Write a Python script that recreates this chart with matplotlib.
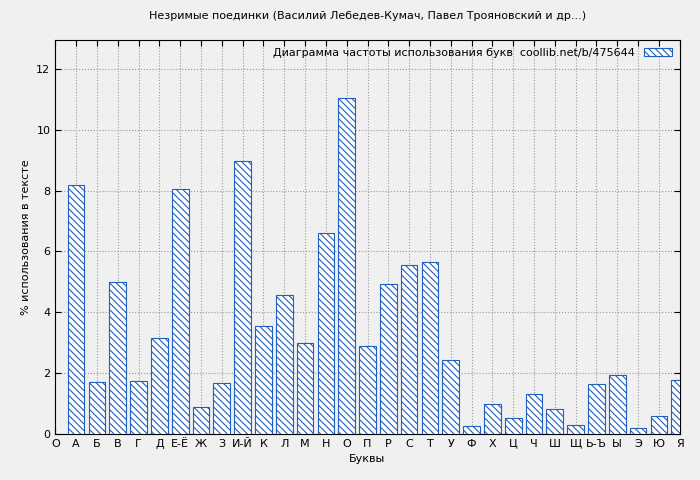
import matplotlib
matplotlib.use("Agg")
import matplotlib.pyplot as plt

letters = ["А", "Б", "В", "Г", "Д", "Е-Ё", "Ж", "З", "И-Й", "К", "Л", "М", "Н", "О", "П",
           "Р", "С", "Т", "У", "Ф", "Х", "Ц", "Ч", "Ш", "Щ", "Ь-Ъ", "Ы", "Э", "Ю", "Я"]
values = [8.2, 1.7, 5.0, 1.75, 3.15, 8.05, 0.9, 1.68, 8.98, 3.55, 4.57, 3.0, 6.6, 11.05, 2.9,
          4.93, 5.57, 5.67, 2.43, 0.27, 0.98, 0.53, 1.32, 0.82, 0.3, 1.65, 1.95, 0.2, 0.6, 1.77]

plt.rcParams["font.family"] = ["DejaVu Sans"]
plt.rcParams["font.size"] = 8
plt.rcParams["hatch.color"] = "#1f5fbf"
plt.rcParams["hatch.linewidth"] = 0.8

fig = plt.figure(figsize=(7, 4.8), dpi=100, facecolor="#f0f0f0")
ax = fig.add_axes([0.079, 0.096, 0.892, 0.821])
ax.set_facecolor("#f0f0f0")

xs = list(range(1, len(letters) + 1))
ax.bar(xs, values, width=0.8, facecolor="white", edgecolor="#1f5fbf",
       hatch="\\\\\\\\\\", linewidth=0.8,
       label="Диаграмма частоты использования букв  coollib.net/b/475644", zorder=3)

ax.set_xlim(0, 30)
ax.set_ylim(0, 12.96)
ax.set_xticks([0] + xs)
ax.set_xticklabels(["О"] + letters)
ax.set_yticks(range(0, 13, 2))
ax.tick_params(direction="in", top=True, right=True, length=4)
ax.grid(True, linestyle=":", color="#999999", linewidth=0.8, zorder=0)
for s in ax.spines.values():
    s.set_linewidth(0.8)

ax.set_title("Незримые поединки (Василий Лебедев-Кумач, Павел Трояновский и др...)", fontsize=8, pad=15)
ax.set_xlabel("Буквы")
ax.set_ylabel("% использования в тексте")
leg = ax.legend(loc="upper right", frameon=False, markerfirst=False, handlelength=2.5,
                handleheight=0.8, borderaxespad=0.3)

fig.savefig("out.png", dpi=100, facecolor=fig.get_facecolor())
